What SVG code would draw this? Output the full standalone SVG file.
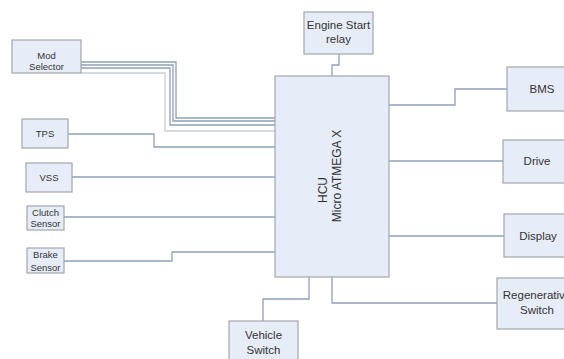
<svg xmlns="http://www.w3.org/2000/svg" width="564" height="359" viewBox="0 0 564 359">
<style>
.box{fill:#e7edf8;stroke:#a3a6ab;stroke-width:1.2}
.ln{fill:none;stroke:#8f9fb8;stroke-width:1.3}
.lt{fill:none;stroke:#c8ced8;stroke-width:1.3}
text{font-family:"Liberation Sans",Arial,sans-serif;fill:#333;text-anchor:middle}
.s{font-size:9.5px}
.m{font-size:11.5px}
</style>
<rect width="564" height="359" fill="#fff"/>
<g id="connectors">
<polyline class="ln" points="81,62 176,62 176,118 275,118"/>
<polyline class="ln" points="81,65 173,65 173,121 275,121"/>
<polyline class="ln" points="81,68 170,68 170,125 275,125"/>
<polyline class="lt" points="81,73 165,73 165,131 275,131"/>
<polyline class="ln" points="68,134 154,134 154,147 275,147"/>
<polyline class="ln" points="72,177 275,177"/>
<polyline class="ln" points="64,217 275,217"/>
<polyline class="ln" points="64,261 172,261 172,252 275,252"/>
<polyline class="ln" points="339,54 339,65 332,65 332,76"/>
<polyline class="ln" points="389,105 455,105 455,89 507,89"/>
<polyline class="ln" points="389,161 503,161"/>
<polyline class="ln" points="389,236 504,236"/>
<polyline class="ln" points="332,277 332,303 497,303"/>
<polyline class="ln" points="309,277 309,299 263,299 263,321"/>
</g>
<g id="hcu">
<rect class="box" x="275" y="76" width="114" height="201"/>
<text class="m" font-size="12" style="font-size:12px" transform="translate(327,190) rotate(-90)">HCU</text>
<text style="font-size:12px" transform="translate(341,176) rotate(-90)">Micro ATMEGA X</text>
</g>
<g id="mod-selector">
<rect class="box" x="12" y="40" width="69" height="33"/>
<text class="s" x="46.5" y="59">Mod</text>
<text class="s" x="46.5" y="70">Selector</text>
</g>
<g id="tps">
<rect class="box" x="22" y="119" width="46" height="29"/>
<text class="s" x="45" y="137">TPS</text>
</g>
<g id="vss">
<rect class="box" x="26" y="163" width="46" height="29"/>
<text class="s" x="49" y="180.5">VSS</text>
</g>
<g id="clutch">
<rect class="box" x="27" y="206" width="37" height="24"/>
<text class="s" x="45.5" y="215.5">Clutch</text>
<text class="s" x="45.5" y="227">Sensor</text>
</g>
<g id="brake">
<rect class="box" x="27" y="248" width="37" height="25"/>
<text class="s" x="45.5" y="258">Brake</text>
<text class="s" x="45.5" y="270.5">Sensor</text>
</g>
<g id="engine-start">
<rect class="box" x="304" y="12" width="69" height="42"/>
<text class="m" x="338.5" y="29">Engine Start</text>
<text class="m" x="338.5" y="43">relay</text>
</g>
<g id="bms">
<rect class="box" x="507" y="67" width="70" height="44"/>
<text class="m" x="542" y="93">BMS</text>
</g>
<g id="drive">
<rect class="box" x="503" y="140" width="70" height="43"/>
<text class="m" x="537" y="165">Drive</text>
</g>
<g id="display">
<rect class="box" x="504" y="214" width="70" height="43"/>
<text class="m" x="538" y="240">Display</text>
</g>
<g id="regen">
<rect class="box" x="497" y="278" width="80" height="51"/>
<text class="m" x="537" y="299">Regenerative</text>
<text class="m" x="537" y="314">Switch</text>
</g>
<g id="vehicle-switch">
<rect class="box" x="229" y="321" width="69" height="45"/>
<text class="m" x="263.5" y="339">Vehicle</text>
<text class="m" x="263.5" y="354">Switch</text>
</g>
</svg>
